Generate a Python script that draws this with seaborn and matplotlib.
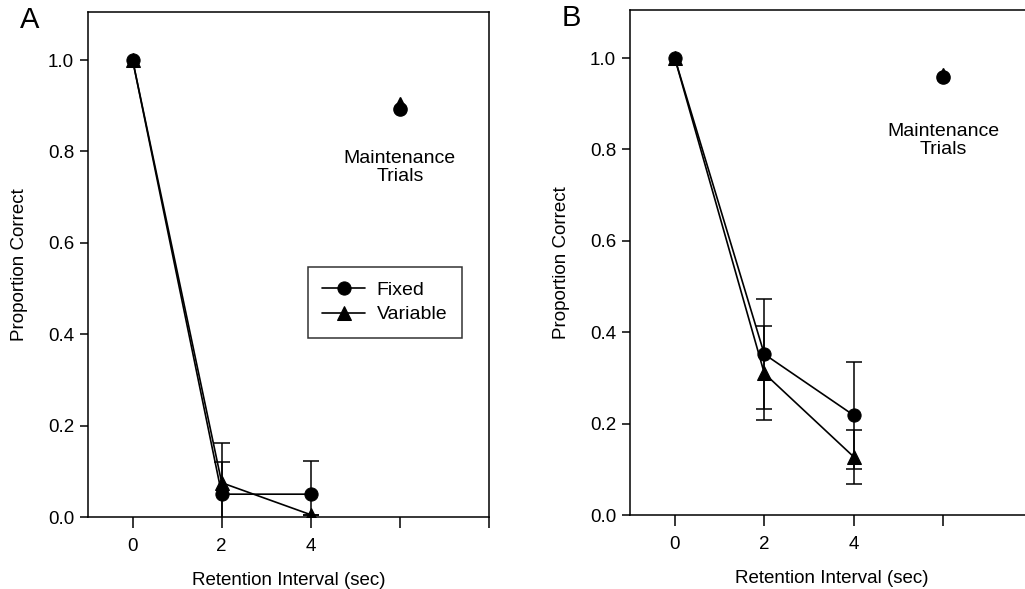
import numpy as np
import pandas as pd
import matplotlib
matplotlib.use("Agg")
import matplotlib.pyplot as plt
import seaborn as sns

sns.set_theme(style="white")
plt.rcParams['font.family'] = ['Liberation Sans', 'DejaVu Sans']
plt.rcParams['text.color'] = 'black'
plt.rcParams['axes.labelcolor'] = 'black'
plt.rcParams['xtick.color'] = 'black'
plt.rcParams['ytick.color'] = 'black'

# Retention intervals (sec)
intervals = [0, 2, 4]

# Panel A
a_fixed = [1.0, 0.05, 0.05]
a_fixed_err = [0.0, 0.07, 0.073]
a_variable = [1.0, 0.075, 0.005]
a_variable_err = [0.0, 0.087, 0.0]
a_maint_fixed = 0.893
a_maint_variable = 0.905

# Panel B
b_fixed = [1.0, 0.352, 0.218]
b_fixed_err = [0.0, 0.12, 0.117]
b_variable = [1.0, 0.31, 0.127]
b_variable_err = [0.0, 0.103, 0.06]
b_maint_fixed = 0.958
b_maint_variable = 0.965

maint_x = 6


def draw_panel(ax, fixed, fixed_err, variable, variable_err, m_fixed, m_var, label, legend):
    df = pd.DataFrame({
        'Interval': intervals * 2,
        'Proportion': fixed + variable,
        'Condition': ['Fixed'] * 3 + ['Variable'] * 3,
    })
    sns.lineplot(data=df, x='Interval', y='Proportion', style='Condition',
                 markers={'Fixed': 'o', 'Variable': '^'}, dashes=False,
                 color='black', markersize=9.5, linewidth=1.2,
                 markeredgecolor='black', legend=legend, ax=ax, zorder=3)
    ax.errorbar(intervals[1:], fixed[1:], yerr=fixed_err[1:], fmt='none',
                ecolor='black', elinewidth=1.1, capsize=6, capthick=1.1)
    ax.errorbar(intervals[1:], variable[1:], yerr=variable_err[1:], fmt='none',
                ecolor='black', elinewidth=1.1, capsize=6, capthick=1.1)
    # maintenance trials
    ax.plot([maint_x], [m_var], marker='^', color='black', markersize=8, linestyle='none')
    ax.plot([maint_x], [m_fixed], marker='o', color='black', markersize=9.5, linestyle='none')

    ax.set_xlim(-1, 8)
    ax.set_ylim(0, 1.105)
    ax.set_xticks([0, 2, 4, 6, 8])
    ax.set_xticklabels(['0', '2', '4', '', ''])
    ax.set_yticks([0, 0.2, 0.4, 0.6, 0.8, 1.0])
    ax.set_yticklabels(['0.0', '0.2', '0.4', '0.6', '0.8', '1.0'])
    ax.tick_params(axis='x', bottom=True, direction='out', length=8, width=1.1,
                   labelsize=13.5, pad=7)
    ax.tick_params(axis='y', left=True, direction='out', length=6, width=1.1,
                   labelsize=13.5, pad=4)
    for sp in ax.spines.values():
        sp.set_visible(True)
        sp.set_color('black')
        sp.set_linewidth(1.1)
    ax.set_xlabel('Retention Interval (sec)', fontsize=13.5, labelpad=12)
    ax.set_ylabel('Proportion Correct', fontsize=13.5, labelpad=14)
    ax.text(-0.17, 0.985, label, transform=ax.transAxes, fontsize=21,
            ha='left', va='center')


fig = plt.figure(figsize=(10.25, 5.89), dpi=100)
ax_a = fig.add_axes([0.0859, 0.1222, 0.3912, 0.8574])
ax_b = fig.add_axes([0.6146, 0.1256, 0.3932, 0.8574])

draw_panel(ax_a, a_fixed, a_fixed_err, a_variable, a_variable_err,
           a_maint_fixed, a_maint_variable, 'A', True)
draw_panel(ax_b, b_fixed, b_fixed_err, b_variable, b_variable_err,
           b_maint_fixed, b_maint_variable, 'B', False)

ax_a.text(maint_x, 0.765, 'Maintenance\nTrials', ha='center', va='center',
          fontsize=14, linespacing=1.05)
ax_b.text(maint_x, 0.82, 'Maintenance\nTrials', ha='center', va='center',
          fontsize=14, linespacing=1.05)

leg = ax_a.legend(loc='center', bbox_to_anchor=(0.74, 0.425), frameon=True,
                  fancybox=False, edgecolor='black', fontsize=14,
                  handlelength=2.2, borderpad=0.75, labelspacing=0.35,
                  handletextpad=0.6)
leg.get_frame().set_linewidth(1.1)
leg.set_title(None)

fig.savefig('out.png', dpi=100)
